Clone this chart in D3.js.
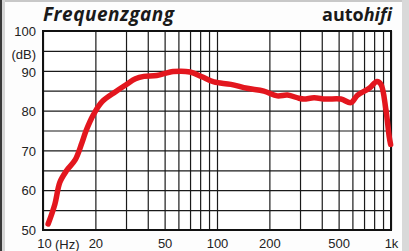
<!DOCTYPE html>
<html>
<head>
<meta charset="utf-8">
<script src="https://d3js.org/d3.v7.min.js"></script>
<style>
  html, body { margin: 0; padding: 0; background: #fff; }
  svg { display: block; }
  .tick text { font-family: "Liberation Sans", Arial, sans-serif; font-size: 13px; fill: #222; }
</style>
</head>
<body>
<div class="chart"></div>
<script>
// frequency response
var freq = [10.7, 11.7, 12.5, 13.7, 15.3, 16.7, 17.7, 19.5, 21.8, 26, 30, 34, 38, 45, 56, 70, 82, 96,
            120, 149, 186, 222, 254, 296, 316, 361, 422, 515, 588, 643, 750, 830, 875, 935, 977, 995];
var level = [51.5, 56.5, 62, 65, 67.6, 71.8, 75, 79, 82.2, 84.7, 86.5, 88, 88.6, 88.8, 89.8, 89.7, 88.5, 87.2,
             86.6, 85.6, 84.9, 83.7, 83.9, 83.1, 82.9, 83.2, 82.9, 82.9, 82.0, 83.9, 85.6, 87.3, 86.6, 80.2, 73.4, 71.5];

var xGrid = [10, 20, 30, 40, 50, 60, 70, 80, 90, 100, 200, 300, 400, 500, 600, 700, 800, 900, 1000];
var xLabels = {10: "10", 20: "20", 50: "50", 100: "100", 200: "200", 500: "500", 1000: "1k"};
var yGrid = [50, 55, 60, 65, 70, 75, 80, 85, 90, 95, 100];
var yLabels = {50: "50", 60: "60", 70: "70", 80: "80", 90: "90", 95: "(dB)", 100: "100"};

var W = 409, H = 251;
var pL = 43, pR = 391, pT = 31, pB = 230;

var svg = d3.select("div.chart").append("svg")
  .attr("width", W).attr("height", H);

// scan-like frame
svg.append("rect").attr("width", W).attr("height", H).attr("fill", "#fdfdfd");
svg.append("rect").attr("x", 0).attr("y", 0).attr("width", W).attr("height", 2).attr("fill", "#c8c8c8");
svg.append("rect").attr("x", 0).attr("y", 0).attr("width", 2).attr("height", H).attr("fill", "#3a3a3a");
svg.append("rect").attr("x", 2).attr("y", 0).attr("width", 3).attr("height", H).attr("fill", "#d6d6d6");
svg.append("rect").attr("x", 402).attr("y", 0).attr("width", 7).attr("height", H).attr("fill", "#d9d9d9");

var x = d3.scaleLog().domain([10, 1000]).range([pL, pR]);
var y = d3.scaleLinear().domain([50, 100]).range([pB, pT]);

svg.append("rect").attr("x", pL).attr("y", pT)
  .attr("width", pR - pL).attr("height", pB - pT).attr("fill", "#fff");

var xAxis = d3.axisBottom(x).tickValues(xGrid).tickSize(-(pB - pT)).tickPadding(9)
  .tickFormat(function(d){ return xLabels[d] || ""; });
var yAxis = d3.axisLeft(y).tickValues(yGrid).tickSize(-(pR - pL)).tickPadding(7)
  .tickFormat(function(d){ return yLabels[d] || ""; });

var gx = svg.append("g").attr("transform", "translate(0," + pB + ")").call(xAxis);
var gy = svg.append("g").attr("transform", "translate(" + pL + ",0)").call(yAxis);
[gx, gy].forEach(function(g){
  g.select(".domain").remove();
  g.selectAll(".tick line").attr("stroke", "#1a1a1a").attr("stroke-width", 1.2);
});
gx.selectAll(".tick text").attr("dy", "0.71em")
  .attr("dx", function(d){ return d === 10 ? 1 : 0; });
gy.selectAll(".tick text")
  .attr("dy", function(d){ return d === 95 ? "0.6em" : d === 90 ? "0.45em" : "0.36em"; });

svg.append("text").attr("x", 55).attr("y", 249)
  .style("font-family", "'Liberation Sans', Arial, sans-serif").style("font-size", "13px")
  .attr("fill", "#222").text("(Hz)");

svg.append("rect").attr("x", pL).attr("y", pT)
  .attr("width", pR - pL).attr("height", pB - pT)
  .attr("fill", "none").attr("stroke", "#111").attr("stroke-width", 2);

var line = d3.line()
  .x(function(d, i){ return x(freq[i]); })
  .y(function(d){ return y(d); })
  .curve(d3.curveCatmullRom.alpha(0.5));

svg.append("path").datum(level)
  .attr("d", line)
  .attr("fill", "none")
  .attr("stroke", "#e3161e")
  .attr("stroke-width", 5.5)
  .attr("stroke-linejoin", "round")
  .attr("stroke-linecap", "round");

svg.append("text").attr("x", pL).attr("y", 21)
  .style("font-family", "'Open Sans', sans-serif").style("font-size", "19px")
  .style("font-weight", "bold").style("font-style", "italic")
  .style("letter-spacing", "0.5px")
  .attr("fill", "#1a1a1a").text("Frequenzgang");

var brand = svg.append("text").attr("x", 392).attr("y", 21).attr("text-anchor", "end")
  .style("font-family", "'Open Sans', sans-serif").style("font-size", "18px")
  .style("font-weight", "bold").attr("fill", "#1a1a1a");
brand.append("tspan").text("auto");
brand.append("tspan").style("font-style", "italic").text("hifi");
</script>
</body>
</html>
